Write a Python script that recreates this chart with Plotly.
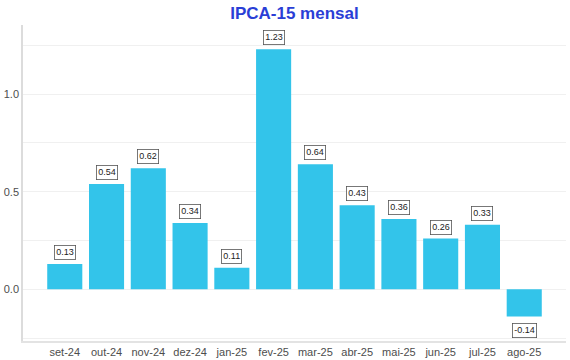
import plotly.graph_objects as go

categories = ["set-24", "out-24", "nov-24", "dez-24", "jan-25", "fev-25",
              "mar-25", "abr-25", "mai-25", "jun-25", "jul-25", "ago-25"]
values = [0.13, 0.54, 0.62, 0.34, 0.11, 1.23, 0.64, 0.43, 0.36, 0.26, 0.33, -0.14]
labels = [f"{v:.2f}" for v in values]
y_tickvals = [-0.25, 0.0, 0.25, 0.5, 0.75, 1.0, 1.25]
y_ticktext = ["", "0.0", "", "0.5", "", "1.0", ""]

fig = go.Figure()
fig.add_trace(go.Bar(x=list(range(len(categories))), y=values,
                     marker=dict(color="#33c4ea", line=dict(width=0)),
                     width=0.84, hoverinfo="skip"))

for i, (v, t) in enumerate(zip(values, labels)):
    fig.add_annotation(x=i, y=v, text=t, showarrow=False,
                       yanchor="bottom" if v >= 0 else "top",
                       yshift=4 if v >= 0 else -6,
                       font=dict(family="Liberation Sans, Arial", size=9, color="#222222"),
                       bgcolor="white", bordercolor="#555555", borderwidth=0.8,
                       borderpad=1.5)

fig.update_layout(
    width=570, height=360,
    margin=dict(l=23, r=4, t=25, b=19, autoexpand=False),
    paper_bgcolor="white", plot_bgcolor="white",
    showlegend=False,
    title=dict(text="<b>IPCA-15 mensal</b>", x=0.5166, xanchor="center",
               y=0.965, yanchor="middle",
               font=dict(family="Liberation Sans, Arial", size=17, color="#2a3ed6")),
    xaxis=dict(range=[-1.0, 12.0], tickvals=list(range(len(categories))),
               ticktext=categories, showgrid=False, zeroline=False,
               showline=True, linecolor="#e3e3e3", linewidth=1.5, automargin=False,
               ticks="", tickfont=dict(family="Liberation Sans, Arial", size=11, color="#4d4d4d")),
    yaxis=dict(range=[-0.265, 1.354], tickvals=y_tickvals, ticktext=y_ticktext,
               showgrid=True, gridcolor="#f0f0f0", gridwidth=1, automargin=False,
               zeroline=False, showline=True, linecolor="#dcdcdc", linewidth=1.5,
               ticks="", tickfont=dict(family="Liberation Sans, Arial", size=11, color="#4d4d4d")),
    bargap=0.16,
)

fig.write_html("out.html", config={"displayModeBar": False},
               post_script="document.body.style.margin='0';document.body.style.padding='0';")
